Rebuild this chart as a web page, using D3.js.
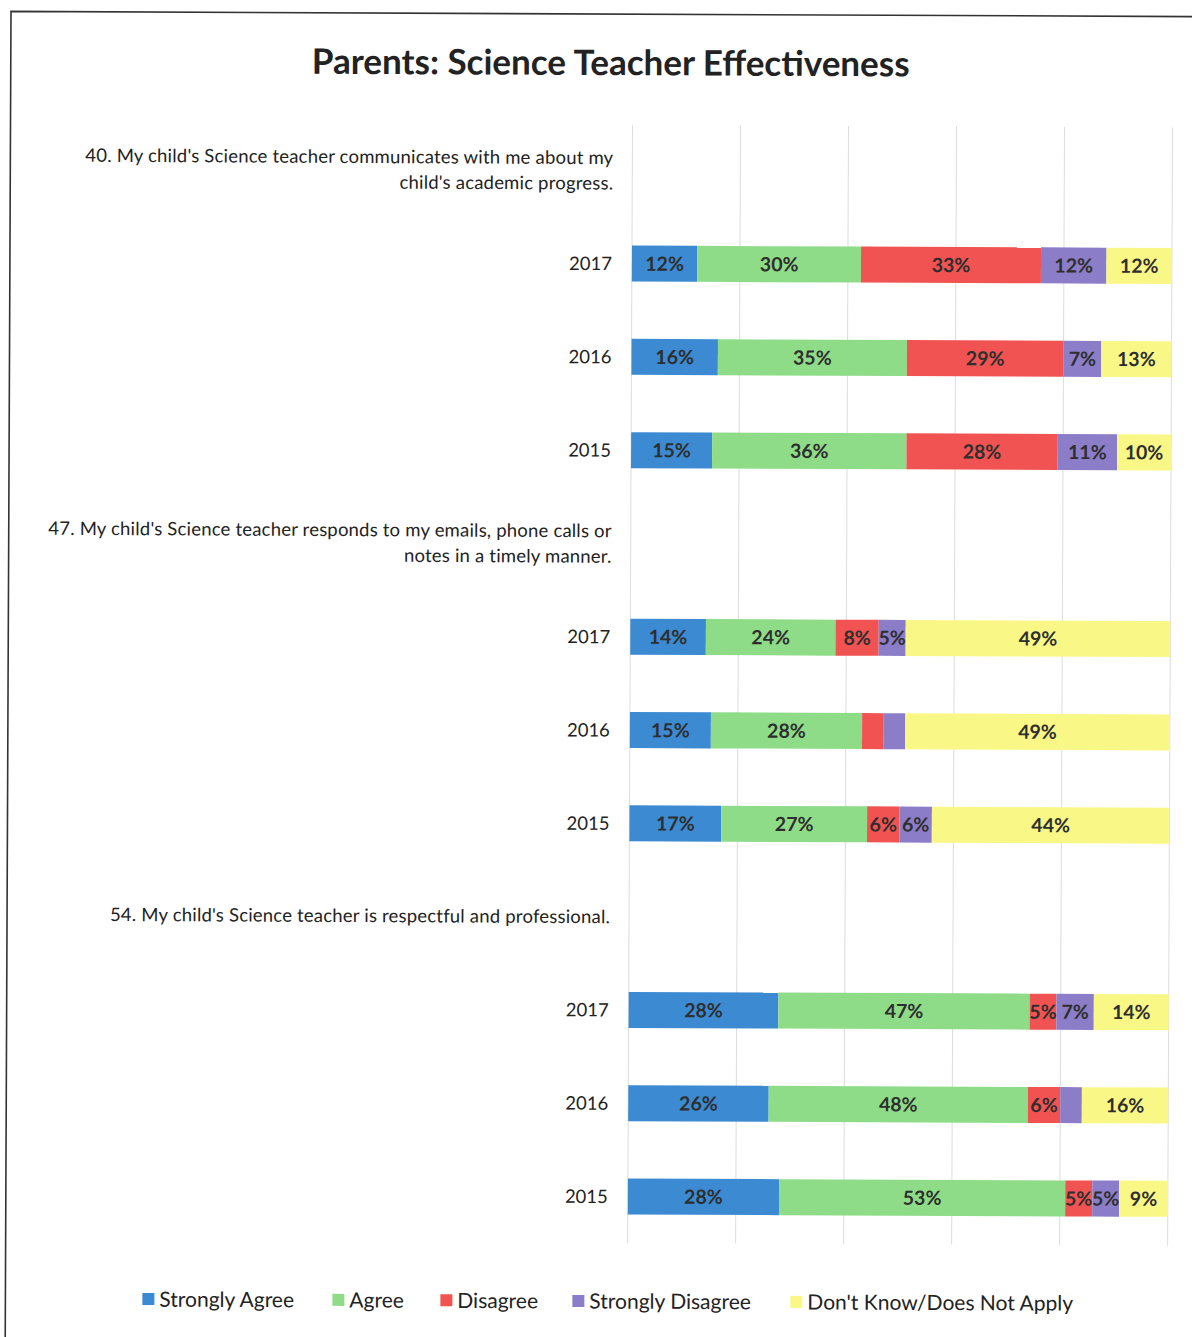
<!DOCTYPE html>
<html>
<head>
<meta charset="utf-8">
<script src="https://cdn.jsdelivr.net/npm/d3@7"></script>
<style>
  html, body { margin: 0; padding: 0; background: #fff; }
  svg { display: block; }
</style>
</head>
<body>
<svg id="chart" width="1192" height="1337"></svg>
<script>
// Survey responses, in percent, one entry per (question, year) row.
const years = ["2017", "2016", "2015"];
const questionLines = [
  ["40. My child's Science teacher communicates with me about my", "child's academic progress."],
  ["47. My child's Science teacher responds to my emails, phone calls or", "notes in a timely manner."],
  ["54. My child's Science teacher is respectful and professional."]
];
const categories = ["Strongly Agree", "Agree", "Disagree", "Strongly Disagree", "Don't Know/Does Not Apply"];

const stronglyAgree    = [12, 16, 15, 14, 15, 17, 28, 26, 28];
const agree            = [30, 35, 36, 24, 28, 27, 47, 48, 53];
const disagree         = [33, 29, 28,  8,  4,  6,  5,  6,  5];
const stronglyDisagree = [12,  7, 11,  5,  4,  6,  7,  4,  5];
const dontKnow         = [12, 13, 10, 49, 49, 44, 14, 16,  9];

const xTicks = [0, 0.2, 0.4, 0.6, 0.8, 1.0];

const colors = ["#3b8ad2", "#8edc88", "#f05351", "#8b7dc8", "#f9f887"];
const series = [stronglyAgree, agree, disagree, stronglyDisagree, dontKnow];

// Build the row table: a header row per question, then one row per year.
const rows = [];
const barRows = [];
questionLines.forEach((lines, qi) => {
  rows.push({ key: "q" + qi, type: "question", lines });
  years.forEach((yr, yi) => {
    const idx = qi * years.length + yi;
    const r = { key: "q" + qi + "-" + yr, type: "bar", year: yr };
    categories.forEach((c, ci) => { r[c] = series[ci][idx]; });
    rows.push(r);
    barRows.push(r);
  });
});

const svg = d3.select("#chart");
const font = "Lato, 'Open Sans', sans-serif";

// Whole page sits slightly tilted.
const root = svg.append("g").attr("transform", "rotate(0.25, 600, 700)");

// Outer frame
root.append("path")
  .attr("d", "M8,1400 L8,14 L1250,14")
  .attr("fill", "none")
  .attr("stroke", "#333")
  .attr("stroke-width", 1.6);

// Title
root.append("text")
  .attr("x", 608).attr("y", 75)
  .attr("text-anchor", "middle")
  .attr("font-family", font)
  .attr("font-weight", "bold")
  .attr("font-size", 35)
  .attr("fill", "#222")
  .text("Parents: Science Teacher Effectiveness");

const x = d3.scaleLinear().domain([0, 1]).range([630, 1170]);
const y = d3.scaleBand()
  .domain(rows.map(r => r.key))
  .range([123.5, 1243])
  .paddingInner(0.614)
  .paddingOuter(0.307);

// Vertical gridlines
root.append("g")
  .selectAll("line")
  .data(xTicks)
  .join("line")
  .attr("x1", d => x(d)).attr("x2", d => x(d))
  .attr("y1", 125).attr("y2", 1243)
  .attr("stroke", "#dcdcdc")
  .attr("stroke-width", 1);

// 100% stacked segments
const stack = d3.stack().keys(categories).offset(d3.stackOffsetExpand);
const stacked = stack(barRows);

const layers = root.append("g")
  .selectAll("g")
  .data(stacked)
  .join("g")
  .attr("fill", (d, i) => colors[i]);

layers.selectAll("rect")
  .data(d => d.map(s => ({ s, key: d.key })))
  .join("rect")
  .attr("x", d => x(d.s[0]))
  .attr("width", d => x(d.s[1]) - x(d.s[0]))
  .attr("y", d => y(d.s.data.key))
  .attr("height", y.bandwidth());

// Value labels (narrow slivers under 5% stay unlabelled)
const labels = [];
stacked.forEach(layer => {
  layer.forEach(s => {
    const v = s.data[layer.key];
    if (v >= 5) labels.push({ v, cx: (x(s[0]) + x(s[1])) / 2, cy: y(s.data.key) + y.bandwidth() / 2 });
  });
});
root.append("g")
  .selectAll("text")
  .data(labels)
  .join("text")
  .attr("x", d => d.cx)
  .attr("y", d => d.cy)
  .attr("dy", "0.36em")
  .attr("text-anchor", "middle")
  .attr("font-family", font)
  .attr("font-weight", "bold")
  .attr("font-size", 19.5)
  .attr("fill", "#2e2e2e")
  .text(d => d.v + "%");

// Category labels on the left
const labelX = 610;
const catG = root.append("g")
  .attr("font-family", font)
  .attr("fill", "#222")
  .attr("text-anchor", "end");

rows.forEach(r => {
  const cy = y(r.key) + y.bandwidth() / 2;
  if (r.type === "bar") {
    catG.append("text")
      .attr("x", labelX).attr("y", cy)
      .attr("dy", "0.36em")
      .attr("font-size", 18.5)
      .text(r.year);
  } else {
    const lh = 25.5;
    const top = cy - (r.lines.length - 1) * lh / 2;
    r.lines.forEach((ln, li) => {
      catG.append("text")
        .attr("x", labelX + 1).attr("y", top + li * lh)
        .attr("dy", "0.36em")
        .attr("font-size", 18.5)
        .attr("letter-spacing", 0.2)
        .text(ln);
    });
  }
});

// Legend
const legendX = [145, 335, 443, 575, 793];
const legend = root.append("g")
  .attr("font-family", font)
  .attr("font-size", 21)
  .attr("fill", "#222");
categories.forEach((c, i) => {
  const g = legend.append("g").attr("transform", `translate(${legendX[i]},1301)`);
  g.append("rect").attr("x", 0).attr("y", -6).attr("width", 12).attr("height", 12).attr("fill", colors[i]);
  g.append("text").attr("x", 17).attr("y", 0).attr("dy", "0.36em").text(c);
});
</script>
</body>
</html>
